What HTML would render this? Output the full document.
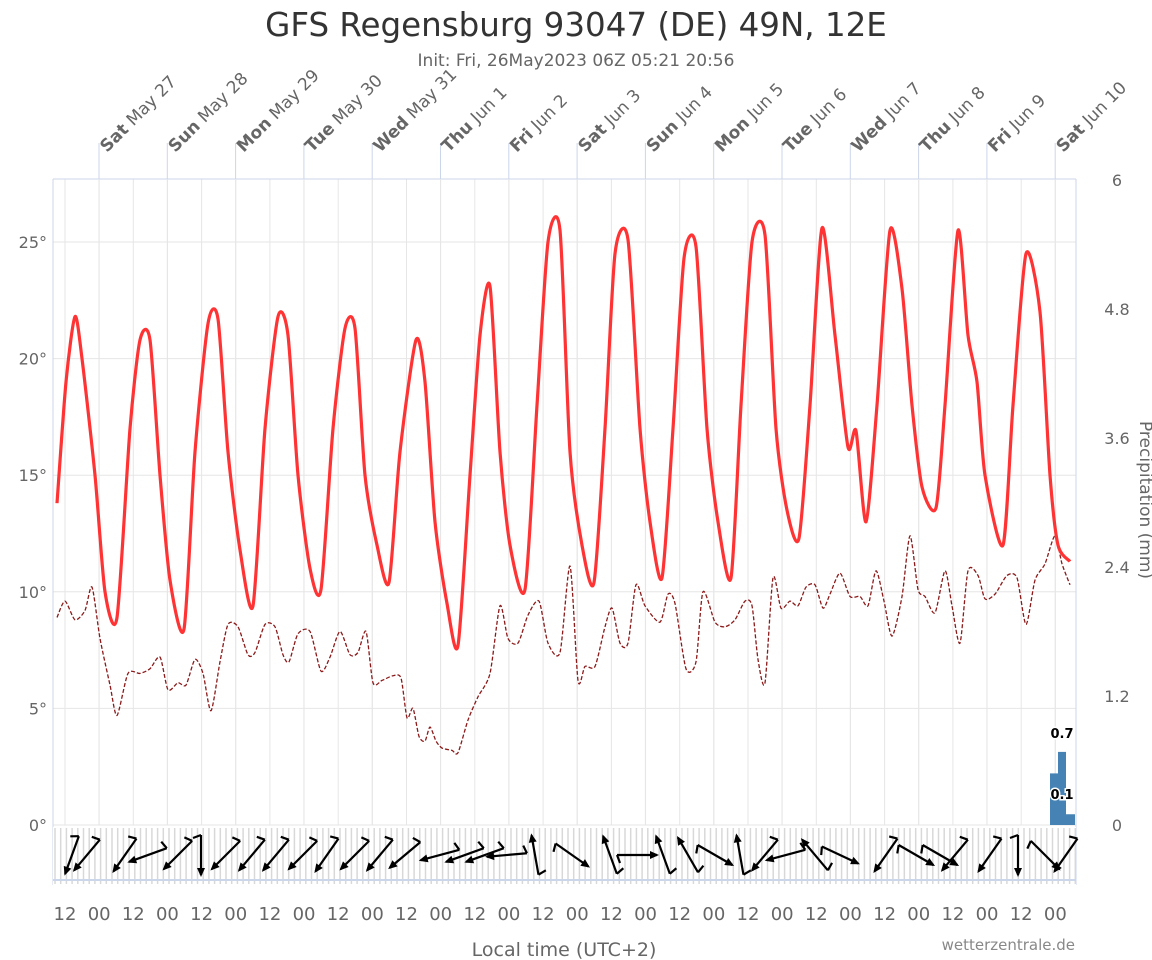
<!DOCTYPE html>
<html><head><meta charset="utf-8"><style>
body{margin:0;background:#fff;}
svg{display:block;font-family:"DejaVu Sans","Liberation Sans",sans-serif;}
</style></head><body>
<svg id="s" width="1152" height="960" viewBox="0 0 1152 960" xmlns="http://www.w3.org/2000/svg">
<rect width="1152" height="960" fill="#fff"/>
<text x="576" y="36" text-anchor="middle" font-size="32.5" fill="#333">GFS Regensburg 93047 (DE) 49N, 12E</text>
<text x="576" y="66" text-anchor="middle" font-size="17" fill="#666">Init: Fri, 26May2023 06Z 05:21 20:56</text>
<text x="564" y="956" text-anchor="middle" font-size="19" fill="#666">Local time (UTC+2)</text>
<text x="1075" y="950" text-anchor="end" font-size="15" fill="#888">wetterzentrale.de</text>
<text transform="translate(1140,500) rotate(90)" text-anchor="middle" font-size="17" fill="#666">Precipitation (mm)</text>
</svg>
<script>
const NS="http://www.w3.org/2000/svg",S=document.getElementById('s');
function el(t,a,p){const e=document.createElementNS(NS,t);for(const k in a)e.setAttribute(k,a[k]);(p||S).appendChild(e);return e;}
const X0=53,X1=1076,T=179,B=825;
const yT=v=>825-v*23.32, yP=v=>825-v*(645/6);
for(let v=0;v<=25;v+=5){el('line',{x1:X0,x2:X1,y1:yT(v),y2:yT(v),stroke:'#e6e6e6'});
 const t=el('text',{x:47,y:yT(v)+6,'text-anchor':'end','font-size':16,fill:'#666'});t.textContent=v+'°';}
['0','1.2','2.4','3.6','4.8','6'].forEach((s,i)=>{const y=yP(i*1.2);const t=el('text',{x:1117,y:y+6,'text-anchor':'middle','font-size':16,fill:'#666'});t.textContent=s;});
for(let x=65;x<X1;x+=34.15){el('line',{x1:x,x2:x,y1:T,y2:B,stroke:'#e6e6e6'});}
el('line',{x1:X0,x2:X0,y1:T,y2:885,stroke:'#ccd6eb'});
el('line',{x1:X1,x2:X1,y1:T,y2:885,stroke:'#ccd6eb'});
el('line',{x1:X0,x2:X1,y1:T,y2:T,stroke:'#ccd6eb'});
const days=[['Sat','May 27'],['Sun','May 28'],['Mon','May 29'],['Tue','May 30'],['Wed','May 31'],['Thu','Jun 1'],['Fri','Jun 2'],['Sat','Jun 3'],['Sun','Jun 4'],['Mon','Jun 5'],['Tue','Jun 6'],['Wed','Jun 7'],['Thu','Jun 8'],['Fri','Jun 9'],['Sat','Jun 10']];
days.forEach((d,i)=>{const x=99+i*68.3;el('line',{x1:x,x2:x,y1:T,y2:B,stroke:'#e6e6e6'});el('line',{x1:x,x2:x,y1:143,y2:T,stroke:'#ccd6eb'});
 const t=el('text',{transform:`translate(${x+8},${153}) rotate(-45)`,'font-size':17,fill:'#666'});
 const b=el('tspan',{'font-weight':'bold'},t);b.textContent=d[0];const r=el('tspan',{},t);r.textContent=' '+d[1];});
for(let i=0;i<30;i++){const x=65+i*34.15;if(x>1070)break;const t=el('text',{x:x,y:920,'text-anchor':'middle','font-size':18,fill:'#666'});t.textContent=i%2?'00':'12';}
el('rect',{x:X0,y:827,width:X1-X0,height:58,fill:'#fff'});
for(let x=X0+2;x<X1;x+=5.7)el('line',{x1:x,x2:x,y1:828,y2:884,stroke:'#d8d8d8','stroke-width':1.5});
el('line',{x1:X0,x2:X1,y1:880,y2:880,stroke:'#ccd6eb','stroke-width':2});
function smooth(p){let d='M'+p[0][0]+','+p[0][1];const k=8;for(let i=0;i<p.length-1;i++){const a=p[i-1]||p[i],b=p[i],c=p[i+1],e=p[i+2]||c;
 d+=` C${b[0]+(c[0]-a[0])/k},${b[1]+(c[1]-a[1])/k} ${c[0]-(e[0]-b[0])/k},${c[1]-(e[1]-b[1])/k} ${c[0]},${c[1]}`;}return d;}
const temp=[57,13.8,66,19,75,21.8,82,20,95,15,105,10,117,8.9,130,17,140,20.8,150,20.8,160,15,170,10.5,184,8.4,195,16,208,21.5,218,21.7,228,16,240,11.8,253,9.4,265,17,278,21.8,288,21,298,15,310,11,321,10.1,333,17,345,21.3,355,21.3,365,15,377,12,389,10.4,400,16,416,20.8,425,19,435,13,447,9.5,458,7.7,470,15,480,21,490,23.1,500,16,510,12,525,10.1,537,18,548,25,560,25.5,570,16,582,12,594,10.4,605,17,615,24.5,628,25.1,640,17,650,13,662,10.6,673,17,684,24.3,696,24.8,707,17,718,13,731,10.6,741,18,752,25,765,25.3,776,17,787,13.5,799,12.3,810,18,822,25.6,835,21,848,16.2,856,16.9,866,13,877,18,890,25.5,902,23,912,18,922,14.5,936,13.6,945,18,958,25.5,968,21,977,19,985,15,1003,12,1013,18,1026,24.5,1040,22,1050,15,1058,12,1070,11.3];
const dew=[57,8.9,65,9.6,75,8.8,85,9.2,92,10.2,100,8,110,6,117,4.7,128,6.5,140,6.5,150,6.7,160,7.2,168,5.8,178,6.1,186,6,195,7.1,203,6.5,211,4.9,220,7,228,8.6,238,8.5,248,7.3,255,7.4,265,8.6,275,8.5,283,7.3,289,7,298,8.2,310,8.3,321,6.6,330,7.2,340,8.3,350,7.3,358,7.4,366,8.3,373,6.1,382,6.2,393,6.4,401,6.3,407,4.6,413,5,419,3.8,425,3.6,430,4.2,436,3.6,442,3.3,452,3.2,458,3.1,468,4.5,478,5.5,490,6.5,500,9.4,508,8,518,7.8,528,9,539,9.6,548,7.8,560,7.4,570,11.1,578,6.2,585,6.8,595,6.8,605,8.5,612,9.3,620,7.8,628,7.8,636,10.3,645,9.4,660,8.7,668,9.9,675,9.5,686,6.7,696,7,703,10,715,8.7,725,8.5,735,8.8,745,9.6,752,9.4,758,7.1,765,6.1,773,10.6,781,9.3,790,9.6,798,9.4,806,10.2,815,10.3,823,9.3,830,9.9,840,10.8,850,9.8,860,9.8,868,9.4,876,10.9,884,9.6,892,8.1,902,9.8,910,12.4,918,10.1,925,9.8,935,9.1,945,10.9,952,9.4,960,7.8,968,10.9,978,10.7,985,9.7,995,9.9,1007,10.7,1017,10.6,1026,8.6,1035,10.5,1045,11.2,1055,12.4,1062,11.2,1070,10.3];
const pts=a=>{const r=[];for(let i=0;i<a.length;i+=2)r.push([a[i],yT(a[i+1])]);return r;};
el('rect',{x:1050,y:yP(0.48),width:8,height:825-yP(0.48),fill:'#4682b4'});
el('rect',{x:1058,y:yP(0.68),width:8,height:825-yP(0.68),fill:'#4682b4'});
el('rect',{x:1066,y:yP(0.1),width:9,height:825-yP(0.1),fill:'#4682b4'});
[[1062,738,'0.7'],[1062,799,'0.1']].forEach(a=>{const t=el('text',{x:a[0],y:a[1],'text-anchor':'middle','font-size':13,'font-weight':'bold',fill:'#000',stroke:'#fff','stroke-width':3,'paint-order':'stroke'});t.textContent=a[2];});
el('path',{d:smooth(pts(dew)),fill:'none',stroke:'#8b1a1a','stroke-width':1.3,'stroke-dasharray':'4,2'});
el('path',{d:smooth(pts(temp)),fill:'none',stroke:'#ff3333','stroke-width':3.2});
const wa=[[72,200],[87,220],[125,215],[148,250],[178,225],[201,180],[226,225],[252,220],[276,220],[303,225],[327,215],[355,225],[380,220],[405,230],[440,255],[465,250],[485,250],[507,265],[535,350],[572,125],[610,340],[637,90],[663,340],[688,330],[715,120],[740,350],[765,220],[786,255],[815,320],[840,115],[886,215],[916,120],[940,120],[955,220],[990,215],[1018,180],[1045,135],[1066,215]];
wa.forEach(([x,a])=>{const r=(a+180)*Math.PI/180,L=40;const cx=x,cy=855;const dx=-Math.sin(r)*L/2,dy=Math.cos(r)*L/2;
 const x1=cx-dx,y1=cy-dy,x2=cx+dx,y2=cy+dy;
 el('line',{x1,y1,x2,y2,stroke:'#000','stroke-width':2.2});
 const h=7,ux=dx/(L/2),uy=dy/(L/2);
 el('polygon',{points:`${x2+ux*2},${y2+uy*2} ${x2-ux*h-uy*4},${y2-uy*h+ux*4} ${x2-ux*h+uy*4},${y2-uy*h-ux*4}`,fill:'#000'});
 el('line',{x1,y1,x2:x1-uy*8+ux*3,y2:y1+ux*8+uy*3,stroke:'#000','stroke-width':2.2});
});
</script>
</body></html>
